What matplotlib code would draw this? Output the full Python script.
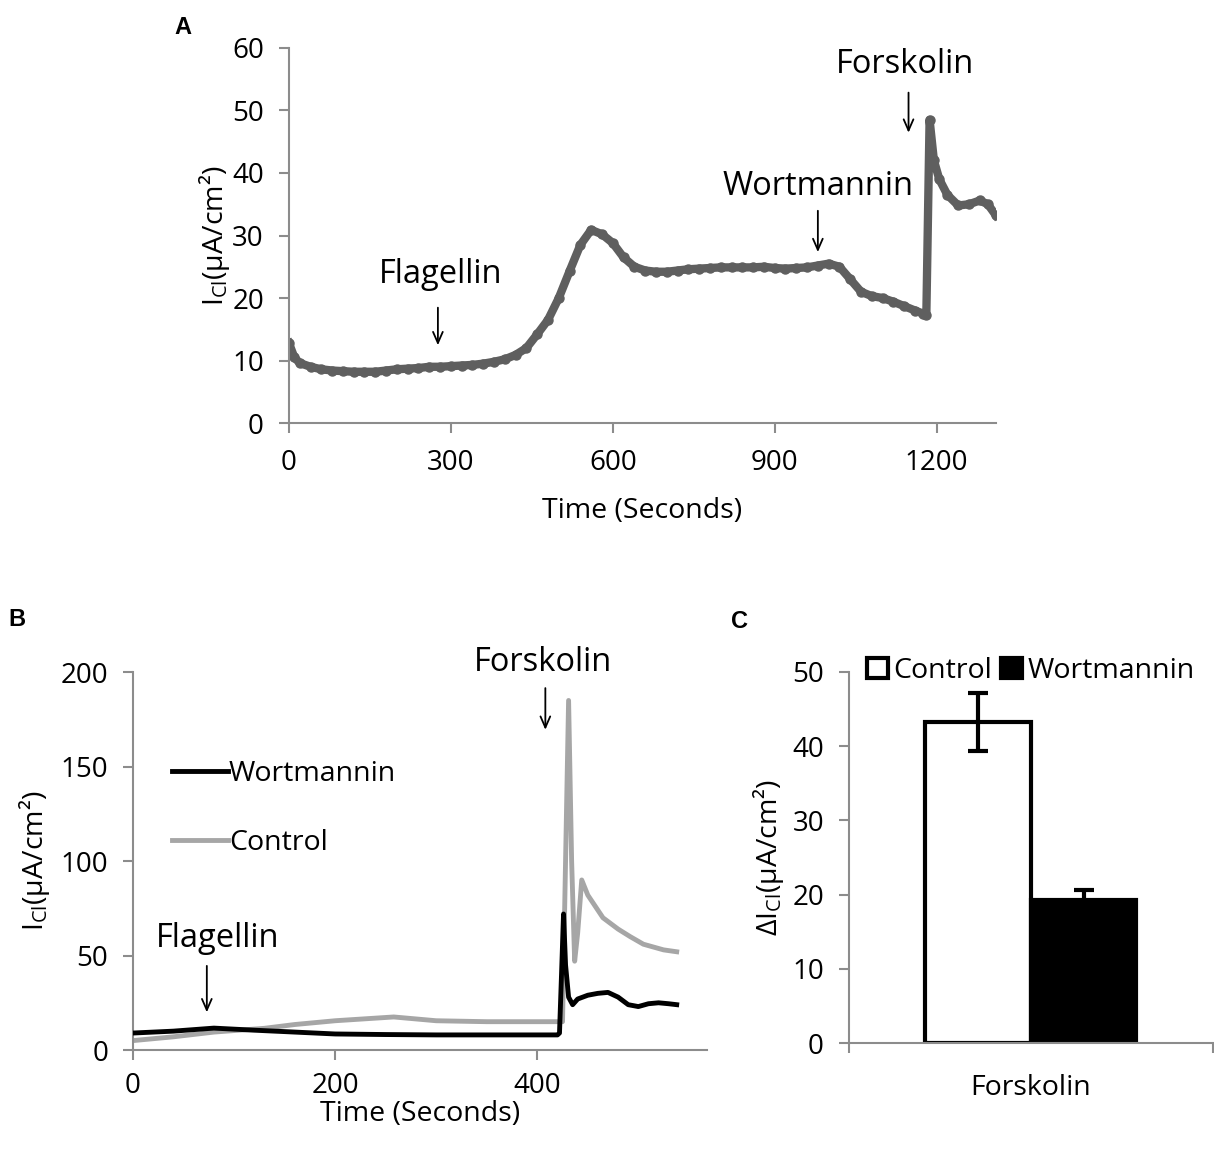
import matplotlib
matplotlib.use('Agg')
import matplotlib.pyplot as plt

plt.rcParams['font.family'] = ['Open Sans', 'DejaVu Sans']
plt.rcParams['mathtext.fontset'] = 'custom'
plt.rcParams['mathtext.rm'] = 'Open Sans'
plt.rcParams['mathtext.it'] = 'Open Sans'

# Panel A: single trace
a_time = [0, 10, 20, 40, 60, 80, 100, 120, 140, 160, 180, 200, 220, 240, 260, 280, 300,
          320, 340, 360, 380, 400, 420, 440, 460, 480, 500, 520, 540, 560, 580, 600,
          620, 640, 660, 680, 700, 720, 740, 760, 780, 800, 820, 840, 860, 880, 900,
          920, 940, 960, 980, 1000, 1020, 1040, 1060, 1080, 1100, 1120, 1140, 1160,
          1175, 1181, 1187, 1195, 1205, 1220, 1240, 1260, 1280, 1295, 1310]
a_current = [12.8, 10.5, 9.6, 9.0, 8.6, 8.4, 8.3, 8.2, 8.2, 8.2, 8.4, 8.6, 8.7, 8.8, 9.0, 9.0, 9.1,
             9.2, 9.3, 9.5, 9.8, 10.2, 10.9, 12.0, 14.2, 16.5, 20.0, 24.3, 28.5, 30.9, 30.2, 28.8,
             26.5, 25.0, 24.4, 24.2, 24.2, 24.4, 24.6, 24.7, 24.8, 24.9, 24.9, 24.9, 24.9, 25.0, 24.8,
             24.7, 24.8, 24.9, 25.2, 25.5, 25.0, 23.0, 21.0, 20.3, 20.0, 19.4, 18.7, 18.0,
             17.5, 17.3, 48.5, 42.0, 39.0, 36.5, 34.8, 35.0, 35.6, 35.0, 33.2]

# Panel B: two traces
b_wort_time = [0, 40, 80, 120, 160, 200, 250, 300, 350, 400, 420, 422, 424, 426, 428, 431,
               435, 440, 450, 460, 470, 480, 490, 500, 510, 520, 530, 538]
b_wort = [9, 10, 11.6, 10.5, 9.5, 8.5, 8.2, 8, 8, 8, 8, 9, 40, 72, 45, 28,
          24, 27, 29, 30, 30.5, 28, 24, 23, 24.5, 25, 24.5, 24]
b_ctrl_time = [0, 40, 80, 130, 160, 200, 258, 300, 350, 400, 422, 425, 428, 431, 434,
               437, 440, 444, 450, 465, 480, 492, 505, 515, 525, 538]
b_ctrl = [5, 7, 9.5, 11.5, 13.5, 15.5, 17.5, 15.5, 15, 15, 15, 15, 100, 185, 100,
          47, 62, 90, 82, 70, 64, 60, 56, 54.5, 53, 52]

# Panel C: bars
c_groups = ['Control', 'Wortmannin']
c_means = [43.3, 19.3]
c_errs = [3.9, 1.3]

spine_col = '#8c8c8c'
fs = 20        # tick labels
lab_fs = 20.5  # axis labels
ann_fs = 23.5  # arrow annotations
leg_fs = 20.5

fig = plt.figure(figsize=(12.14, 11.53), dpi=100)


def style_axes(ax, xpad=12):
    for s in ['top', 'right']:
        ax.spines[s].set_visible(False)
    for s in ['left', 'bottom']:
        ax.spines[s].set_color(spine_col)
        ax.spines[s].set_linewidth(1.5)
    ax.tick_params(which='both', direction='out', length=7, width=1.5, color=spine_col,
                   labelsize=fs, labelcolor='black')
    ax.tick_params(axis='y', pad=11)
    ax.tick_params(axis='x', pad=xpad)


def arrow(ax, x, y0, y1):
    ax.annotate('', xy=(x, y1), xytext=(x, y0),
                arrowprops=dict(arrowstyle='->,head_length=0.8,head_width=0.35', lw=1.3, color='black'),
                annotation_clip=False)


ylab = 'I$_{\\mathrm{Cl}}$(µA/cm²)'

# ---- A ----
axA = fig.add_axes([0.238, 0.6331, 0.5824, 0.3253])
style_axes(axA)
axA.plot(a_time, a_current, color='#5f5f5f', lw=6, marker='o', ms=6.5, solid_joinstyle='round')
axA.set_xlim(0, 1310)
axA.set_ylim(0, 60)
axA.set_xticks([0, 300, 600, 900, 1200])
axA.set_yticks(range(0, 61, 10))
axA.set_xlabel('Time (Seconds)', fontsize=lab_fs, va='center')
axA.xaxis.set_label_coords(0.5, -0.235)
axA.set_ylabel(ylab, fontsize=lab_fs, va='center')
axA.yaxis.set_label_coords(-0.105, 0.5)
axA.text(281, 23.7, 'Flagellin', fontsize=ann_fs, ha='center', va='center')
arrow(axA, 276, 18.9, 12.0)
axA.text(980, 37.9, 'Wortmannin', fontsize=ann_fs, ha='center', va='center')
arrow(axA, 980, 34.4, 26.9)
axA.text(1141, 57.3, 'Forskolin', fontsize=ann_fs, ha='center', va='center')
arrow(axA, 1148, 53.3, 46.0)

# ---- B ----
axB = fig.add_axes([0.1096, 0.0893, 0.4728, 0.3278])
style_axes(axB, xpad=9)
axB.plot(b_wort_time, b_wort, color='black', lw=3.5, label='Wortmannin', zorder=3)
axB.plot(b_ctrl_time, b_ctrl, color='#a6a6a6', lw=3.5, label='Control', zorder=2)
axB.set_xlim(0, 568)
axB.set_ylim(0, 200)
axB.set_xticks([0, 200, 400])
axB.set_yticks(range(0, 201, 50))
axB.set_xlabel('Time (Seconds)', fontsize=lab_fs, va='center')
axB.xaxis.set_label_coords(0.5, -0.168)
axB.set_ylabel(ylab, fontsize=lab_fs, va='center')
axB.yaxis.set_label_coords(-0.171, 0.5)
axB.legend(loc='upper left', bbox_to_anchor=(0.068, 0.767), frameon=False, fontsize=leg_fs,
           handlelength=1.95, handletextpad=0.05, labelspacing=1.45, borderpad=0, borderaxespad=0)
axB.text(84, 59, 'Flagellin', fontsize=ann_fs, ha='center', va='center')
arrow(axB, 73, 46, 18.5)
axB.text(406, 205, 'Forskolin', fontsize=ann_fs, ha='center', va='center', clip_on=False)
arrow(axB, 408, 193, 168)

# ---- C ----
axC = fig.add_axes([0.6993, 0.0954, 0.2998, 0.3218])
style_axes(axC)
offsets = [-0.145, 0.145]
fills = ['white', 'black']
for off, m, e, f, g in zip(offsets, c_means, c_errs, fills, c_groups):
    axC.bar(off, m, width=0.29, color=f, edgecolor='black', linewidth=3, label=g, zorder=2)
    axC.errorbar(off, m, yerr=e, color='black', capsize=7, capthick=3, elinewidth=3, zorder=3)
axC.set_xlim(-0.5, 0.5)
axC.set_ylim(0, 50)
axC.set_yticks(range(0, 51, 10))
axC.set_xticks([0])
axC.set_xticklabels(['Forskolin'], fontsize=lab_fs)
axC.set_xticks([-0.5, 0.5], minor=True)
axC.tick_params(axis='x', which='major', length=0, pad=22)
axC.set_ylabel('Δ' + ylab, fontsize=lab_fs, va='center')
axC.yaxis.set_label_coords(-0.222, 0.5)
handles, labels = axC.get_legend_handles_labels()
axC.legend(handles, labels, loc='lower center', bbox_to_anchor=(0.5, 0.965), ncol=2, frameon=False,
           fontsize=leg_fs, handlelength=0.75, handleheight=0.75, handletextpad=0.2,
           columnspacing=0.3, borderpad=0, borderaxespad=0)

# panel letters
for lx, ly, letter in [(183, 27, 'A'), (17, 620, 'B'), (740, 622, 'C')]:
    fig.text(lx / 1214, 1 - ly / 1153, letter, fontsize=17, fontweight='bold',
             family='Liberation Sans', ha='center', va='center')

fig.savefig('out.png', dpi=100)
